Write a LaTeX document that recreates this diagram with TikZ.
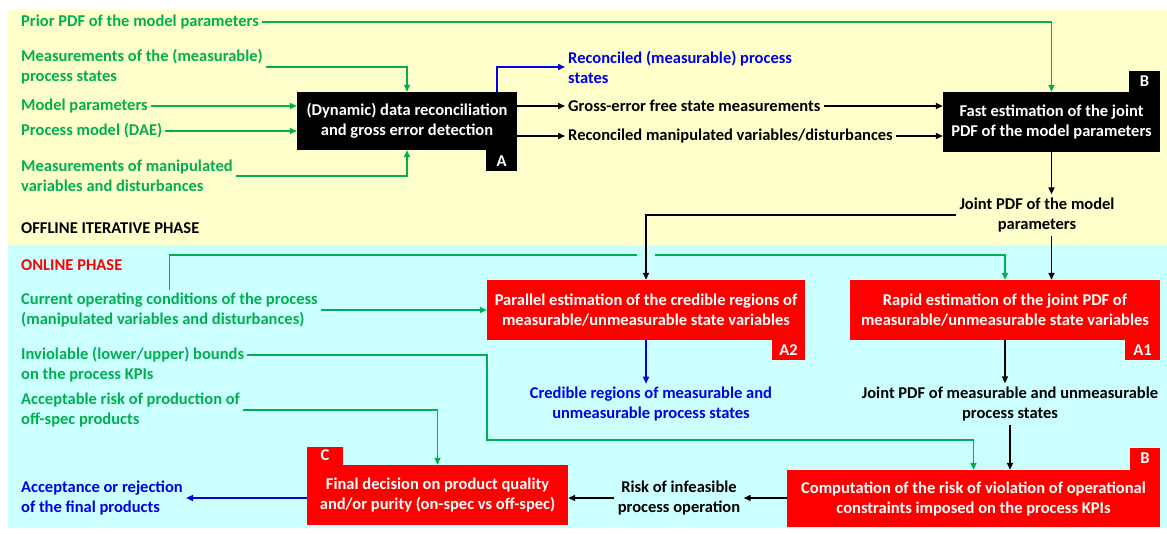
\documentclass[tikz,border=0pt]{standalone}
\usepackage{fontspec}
\setmainfont{Carlito}
\usetikzlibrary{calc,arrows.meta}
\definecolor{ingreen}{RGB}{0,176,80}
\definecolor{outblue}{RGB}{0,0,230}
\definecolor{boxred}{RGB}{255,0,0}
\definecolor{offyellow}{RGB}{255,255,204}
\definecolor{oncyan}{RGB}{204,255,255}

\begin{document}
\begin{tikzpicture}[x=1pt,y=-1pt,>={Triangle[length=7pt,width=6pt]},font=\fontsize{16.5}{20}\selectfont\bfseries]
 \tikzstyle{txt} = [inner sep=3pt,align=left,anchor=west]
 \tikzstyle{intxt} = [txt,text=ingreen]
 \tikzstyle{outtxt} = [txt,text=outblue]
 \tikzstyle{blackbox} = [fill=black,text=white,align=center,inner sep=2pt]
 \tikzstyle{redbox} = [fill=boxred,text=white,align=center,inner sep=2pt]
 \tikzstyle{blacktab} = [fill=black,text=white,inner sep=0pt,minimum width=31,minimum height=21]
 \tikzstyle{redtab} = [fill=boxred,text=white,inner sep=0pt,minimum width=33,minimum height=20]
 \tikzstyle{link} = [line width=1.5pt,->]

  \useasboundingbox (0,0) rectangle (1167,533);
  \fill[offyellow] (8,10) rectangle (1167,245);
  \fill[oncyan] (8,245) rectangle (1167,528);

  % Offline inputs
  \node[intxt] (prior) at (18,22) {Prior PDF of the model parameters};
  \node[intxt] (meas) at (18,67) {Measurements of the (measurable)\\process states};
  \node[intxt] (mpar) at (18,106) {Model parameters};
  \node[intxt] (pmod) at (18,131) {Process model (DAE)};
  \node[intxt] (mman) at (18,176) {Measurements of manipulated\\variables and disturbances};
  \node[txt] (offl) at (18,228) {OFFLINE ITERATIVE PHASE};
  \node[txt,text=boxred] (onl) at (18,265) {ONLINE PHASE};

  % Online inputs
  \node[intxt] (cur) at (18,310) {Current operating conditions of the process\\(manipulated variables and disturbances)};
  \node[intxt] (inv) at (18,365) {Inviolable (lower/upper) bounds\\on the process KPIs};
  \node[intxt] (acc) at (18,410) {Acceptable risk of production of\\off-spec products};
  \node[outtxt] (fin) at (18,498) {Acceptance or rejection\\of the final products};

  % Boxes
  \node[blackbox,minimum width=220,minimum height=58] (dr) at (407,121) {(Dynamic) data reconciliation\\and gross error detection};
  \node[blacktab,anchor=north east] (drtab) at (dr.south east) {A};
  \node[blackbox,minimum width=217,minimum height=60] (fe) at (1051.5,122) {Fast estimation of the joint\\PDF of the model parameters};
  \node[blacktab,anchor=south east] (fetab) at (fe.north east) {B};
  \node[redbox,minimum width=318,minimum height=60] (pe) at (646,310) {Parallel estimation of the credible regions of\\measurable/unmeasurable state variables};
  \node[redtab,anchor=north east] (petab) at (pe.south east) {A2};
  \node[redbox,minimum width=310,minimum height=60] (re) at (1005,310) {Rapid estimation of the joint PDF of\\measurable/unmeasurable state variables};
  \node[redtab,anchor=north east,minimum width=35] (retab) at (re.south east) {A1};
  \node[redbox,minimum width=373,minimum height=57] (cr) at (973.5,498.5) {Computation of the risk of violation of operational\\constraints imposed on the process KPIs};
  \node[redtab,anchor=south east,minimum width=30,minimum height=22] (crtab) at (cr.north east) {B};
  \node[redbox,minimum width=261,minimum height=60] (dc) at (437.5,495) {Final decision on product quality\\and/or purity (on-spec vs off-spec)};
  \node[redtab,anchor=south west,minimum width=36,minimum height=18] (dctab) at (dc.north west) {C};

  % Intermediate results
  \node[outtxt] (recs) at (565,67) {Reconciled (measurable) process\\states};
  \node[txt] (gef) at (565,106) {Gross-error free state measurements};
  \node[txt] (rmv) at (565,136) {Reconciled manipulated variables/disturbances};
  \node[align=center] (jpdf) at (1037,215) {Joint PDF of the model\\parameters};
  \node[outtxt,align=center,anchor=center] (cred) at (651,404) {Credible regions of measurable and\\unmeasurable process states};
  \node[align=center] (jm) at (1010,404) {Joint PDF of measurable and unmeasurable\\process states};
  \node[align=center] (risk) at (679,498) {Risk of infeasible\\process operation};

  \coordinate (bus) at (0,255);
  \coordinate (kpibend) at (487,440);

  % Offline connectors
  \draw[link,ingreen] (prior.east) -| (fe.north);
  \draw[link,ingreen] (meas.east) -| (dr.north);
  \draw[link,ingreen] (mpar.east) -- (mpar.east -| dr.west);
  \draw[link,ingreen] (pmod.east) -- (pmod.east -| dr.west);
  \draw[link,ingreen] (mman.east) -| (dr.south);
  \draw[link,outblue] ([xshift=-20pt]dr.north east) |- (recs.west);
  \draw[link] (gef.west -| dr.east) -- (gef.west);
  \draw[link] (rmv.west -| dr.east) -- (rmv.west);
  \draw[link] (gef.east) -- (gef.east -| fe.west);
  \draw[link] (rmv.east) -- (rmv.east -| fe.west);
  \draw[link] (fe.south) -- (fe.south |- jpdf.north);

  % Online connectors
  \draw[link] (jpdf.west) -| (pe.north);
  \draw[link] (fe.south |- jpdf.south) -- (fe.south |- re.north);
  \draw[line width=1.5pt,ingreen] (cur.north) |- ($(bus -| pe.north)+(-9,0)$);
  \draw[link,ingreen] ($(bus -| pe.north)+(9,0)$) -| (re.north);
  \draw[link,ingreen] (cur.east) -- (cur.east -| pe.west);
  \draw[link,outblue] (pe.south) -- (pe.south |- cred.north);
  \draw[link] (re.south) -- (re.south |- jm.north);
  \draw[link] (jm.south) -- (jm.south |- cr.north);
  \draw[link,ingreen] ([yshift=10pt]inv.east) -| (kpibend) -| (cr.north);
  \draw[link,ingreen] (acc.east) -| (dc.north);
  \draw[link] (risk.east -| cr.west) -- (risk.east);
  \draw[link] (risk.west) -- (risk.west -| dc.east);
  \draw[link,outblue] (fin.east -| dc.west) -- (fin.east);

\end{tikzpicture}
\end{document}
